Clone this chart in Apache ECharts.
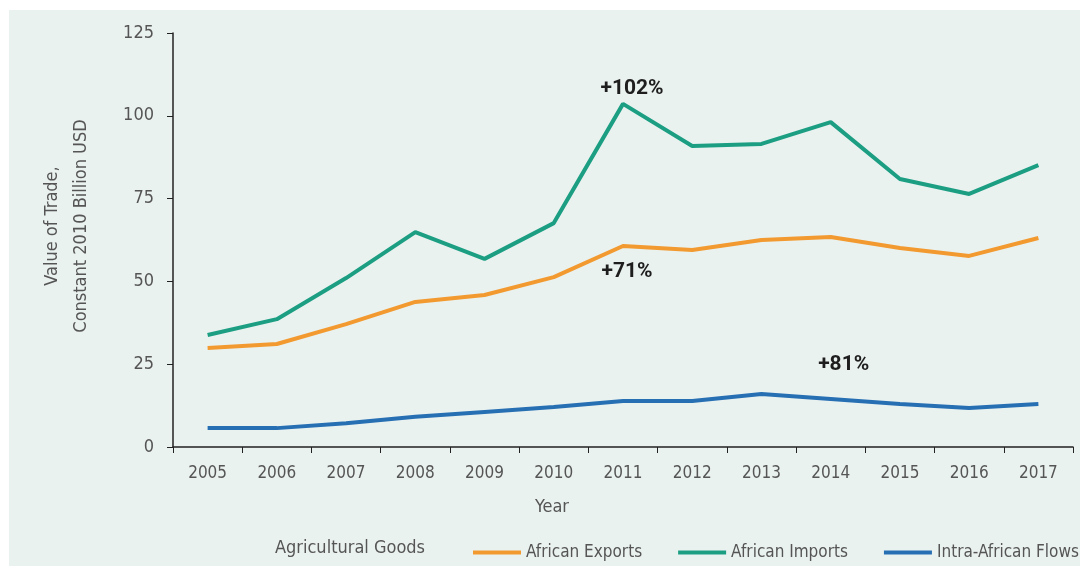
<!DOCTYPE html>
<html>
<head>
<meta charset="utf-8">
<script src="https://cdn.jsdelivr.net/npm/echarts@6/dist/echarts.min.js"></script>
<style>
  html, body { margin: 0; padding: 0; background: #ffffff; }
  #chart { width: 1086px; height: 570px; }
</style>
</head>
<body>
<div id="chart"></div>
<script>
// Agricultural trade values, constant 2010 billion USD
const years = ['2005','2006','2007','2008','2009','2010','2011','2012','2013','2014','2015','2016','2017'];
const africanExports = [29.9, 31.1, 37.1, 43.8, 45.9, 51.3, 60.7, 59.5, 62.5, 63.4, 60.1, 57.7, 63.1];
const africanImports = [33.8, 38.6, 51.0, 64.9, 56.8, 67.6, 103.6, 90.9, 91.5, 98.1, 80.9, 76.4, 85.1];
const intraAfrican   = [5.7, 5.7, 7.2, 9.1, 10.6, 12.1, 13.9, 13.9, 16.0, 14.5, 13.0, 11.8, 13.0];
const yTicks = [0, 25, 50, 75, 100, 125];

// Growth annotations: [label, year, value, horizontal nudge]
const growthNotes = [
  ['+102%', '2011', 108.1, 9],
  ['+71%', '2011', 52.8, 4],
  ['+81%', '2014', 24.8, 13]
];

const condensed = '"Liberation Sans Narrow", "DejaVu Sans Condensed", "Roboto Condensed", sans-serif';
const textGray = '#555555';

const chart = echarts.init(document.getElementById('chart'));

function lineSeries(name, data, color, notes) {
  return {
    name: name,
    type: 'line',
    data: data,
    showSymbol: false,
    symbol: 'none',
    lineStyle: { color: color, width: 4 },
    itemStyle: { color: color },
    animation: false,
    markPoint: notes ? {
      symbol: 'circle',
      symbolSize: 0,
      animation: false,
      data: notes.map(n => ({
        coord: [n[1], n[2]],
        label: {
          show: true,
          position: 'inside',
          formatter: n[0],
          offset: [n[3], 0],
          color: '#1e1e1e',
          fontFamily: 'Roboto, sans-serif',
          fontWeight: 'bold',
          fontSize: 21
        }
      }))
    } : undefined
  };
}

chart.setOption({
  backgroundColor: '#ffffff',
  animation: false,
  graphic: [
    {
      type: 'rect',
      z: -10,
      shape: { x: 9, y: 10, width: 1071, height: 556 },
      style: { fill: '#eaf2f0' }
    },
    {
      type: 'text',
      x: 67,
      y: 226,
      rotation: Math.PI / 2,
      style: {
        text: 'Value of Trade,\nConstant 2010 Billion USD',
        font: '18px ' + condensed,
        lineHeight: 29,
        fill: textGray,
        align: 'center',
        verticalAlign: 'middle'
      }
    },
    {
      type: 'text',
      x: 552,
      y: 507,
      style: { text: 'Year', font: '18px ' + condensed, fill: textGray, align: 'center', verticalAlign: 'middle' }
    },
    {
      type: 'text',
      x: 350,
      y: 548,
      style: { text: 'Agricultural Goods', font: '18px ' + condensed, fill: textGray, align: 'center', verticalAlign: 'middle' }
    }
  ],
  grid: { left: 173, right: 13, top: 33, bottom: 123, containLabel: false },
  legend: {
    left: 468,
    top: 539,
    width: 620,
    icon: 'rect',
    itemWidth: 48,
    itemHeight: 4,
    itemGap: 36,
    textStyle: { fontFamily: condensed, fontSize: 17, color: textGray },
    data: ['African Exports', 'African Imports', 'Intra-African Flows']
  },
  xAxis: {
    type: 'category',
    data: years,
    boundaryGap: true,
    axisLine: { lineStyle: { color: '#222', width: 1.5 } },
    axisTick: { show: true, length: 6, lineStyle: { color: '#222' } },
    axisLabel: { color: textGray, fontFamily: condensed, fontSize: 17, margin: 18 }
  },
  yAxis: {
    type: 'value',
    min: yTicks[0],
    max: yTicks[yTicks.length - 1],
    interval: 25,
    axisLine: { show: true, lineStyle: { color: '#222', width: 1.5 } },
    axisTick: { show: true, length: 6, lineStyle: { color: '#222' } },
    axisLabel: { color: textGray, fontFamily: condensed, fontSize: 18, margin: 19 },
    splitLine: { show: false }
  },
  series: [
    lineSeries('African Exports', africanExports, '#f29a30', [growthNotes[1]]),
    lineSeries('African Imports', africanImports, '#1c9e83', [growthNotes[0]]),
    lineSeries('Intra-African Flows', intraAfrican, '#276fb3', [growthNotes[2]])
  ]
});
</script>
</body>
</html>
